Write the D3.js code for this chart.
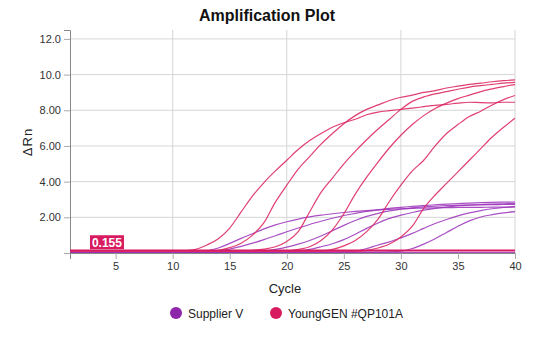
<!DOCTYPE html>
<html><head><meta charset="utf-8">
<script src="https://cdn.jsdelivr.net/npm/d3@7"></script>
<style>body{margin:0;background:#fff;font-family:"Liberation Sans",Arial,sans-serif}</style>
</head><body><svg id="c" width="534" height="342"></svg>
<script>
const cycles = d3.range(1, 41);
const seriesNames = ["Supplier V", "YoungGEN #QP101A"];
const seriesColors = ["#8e24aa", "#d81b60"];
const threshold = 0.155;
const xTicks = [5, 10, 15, 20, 25, 30, 35, 40];
const xGrid = [10, 20, 30, 40];
const yTicks = [0, 2, 4, 6, 8, 10, 12];
const yTickLabels = ["", "2.00", "4.00", "6.00", "8.00", "10.0", "12.0"];

// Supplier V curves (values for cycles 1..40)
const supplierV = [
  [0.05,0.05,0.05,0.05,0.05,0.05,0.05,0.05,0.05,0.05,0.05,0.05,0.12,0.28,0.54,0.82,1.08,1.35,1.58,1.75,1.9,2.02,2.12,2.2,2.27,2.33,2.38,2.42,2.45,2.48,2.5,2.52,2.53,2.54,2.55,2.56,2.56,2.57,2.57,2.58],
  [0.05,0.05,0.05,0.05,0.05,0.05,0.05,0.05,0.05,0.05,0.05,0.05,0.05,0.12,0.22,0.37,0.55,0.75,0.97,1.19,1.4,1.6,1.78,1.95,2.1,2.22,2.33,2.42,2.5,2.56,2.61,2.66,2.7,2.74,2.77,2.8,2.82,2.84,2.85,2.86],
  [0.05,0.05,0.05,0.05,0.05,0.05,0.05,0.05,0.05,0.05,0.05,0.05,0.05,0.05,0.05,0.05,0.05,0.1,0.2,0.33,0.5,0.7,0.95,1.25,1.55,1.82,2.05,2.22,2.36,2.46,2.53,2.58,2.62,2.65,2.67,2.69,2.7,2.71,2.72,2.73],
  [0.05,0.05,0.05,0.05,0.05,0.05,0.05,0.05,0.05,0.05,0.05,0.05,0.05,0.05,0.05,0.05,0.05,0.05,0.05,0.06,0.1,0.2,0.35,0.52,0.75,1.05,1.38,1.68,1.94,2.12,2.27,2.4,2.5,2.58,2.64,2.68,2.72,2.74,2.76,2.78],
  [0.05,0.05,0.05,0.05,0.05,0.05,0.05,0.05,0.05,0.05,0.05,0.05,0.05,0.05,0.05,0.05,0.05,0.05,0.05,0.05,0.05,0.05,0.05,0.05,0.06,0.1,0.25,0.45,0.62,0.85,1.1,1.38,1.65,1.88,2.08,2.25,2.38,2.48,2.55,2.6],
  [0.05,0.05,0.05,0.05,0.05,0.05,0.05,0.05,0.05,0.05,0.05,0.05,0.05,0.05,0.05,0.05,0.05,0.05,0.05,0.05,0.05,0.05,0.05,0.05,0.05,0.05,0.05,0.05,0.06,0.1,0.25,0.5,0.8,1.15,1.5,1.8,2.02,2.15,2.25,2.32],
  [0.04,0.04,0.04,0.04,0.04,0.04,0.04,0.04,0.04,0.04,0.04,0.04,0.04,0.04,0.04,0.04,0.04,0.04,0.04,0.04,0.04,0.04,0.04,0.04,0.04,0.04,0.04,0.04,0.04,0.04,0.04,0.04,0.04,0.04,0.04,0.04,0.04,0.04,0.04,0.04]
];

// YoungGEN #QP101A curves (values for cycles 1..40)
const youngGen = [
  [0.1,0.1,0.1,0.1,0.1,0.1,0.1,0.1,0.1,0.1,0.12,0.2,0.45,0.8,1.4,2.3,3.2,3.95,4.6,5.2,5.8,6.3,6.7,7.05,7.3,7.5,7.75,7.9,7.98,8.05,8.12,8.2,8.28,8.33,8.4,8.45,8.43,8.42,8.45,8.45],
  [0.1,0.1,0.1,0.1,0.1,0.1,0.1,0.1,0.1,0.1,0.1,0.1,0.1,0.15,0.3,0.55,1.0,1.7,2.85,3.8,4.7,5.4,6.1,6.7,7.25,7.7,8.05,8.3,8.55,8.73,8.85,9.0,9.1,9.25,9.35,9.45,9.52,9.6,9.66,9.7],
  [0.1,0.1,0.1,0.1,0.1,0.1,0.1,0.1,0.1,0.1,0.1,0.1,0.1,0.1,0.1,0.1,0.15,0.22,0.35,0.65,1.2,2.3,3.4,4.2,5.0,5.7,6.35,6.95,7.5,8.05,8.5,8.75,8.92,9.05,9.18,9.3,9.38,9.45,9.52,9.57],
  [0.1,0.1,0.1,0.1,0.1,0.1,0.1,0.1,0.1,0.1,0.1,0.1,0.1,0.1,0.1,0.1,0.1,0.1,0.1,0.12,0.2,0.35,0.7,1.3,2.2,3.3,4.25,5.1,5.9,6.6,7.2,7.7,8.1,8.4,8.65,8.85,9.05,9.2,9.33,9.44],
  [0.1,0.1,0.1,0.1,0.1,0.1,0.1,0.1,0.1,0.1,0.1,0.1,0.1,0.1,0.1,0.1,0.1,0.1,0.1,0.1,0.1,0.1,0.1,0.2,0.4,0.7,1.2,1.9,2.9,3.8,4.6,5.2,6.0,6.7,7.2,7.65,7.95,8.3,8.6,8.83],
  [0.1,0.1,0.1,0.1,0.1,0.1,0.1,0.1,0.1,0.1,0.1,0.1,0.1,0.1,0.1,0.1,0.1,0.1,0.1,0.1,0.1,0.1,0.1,0.1,0.1,0.1,0.15,0.28,0.5,0.9,1.5,2.5,3.25,3.9,4.55,5.2,5.85,6.5,7.05,7.55],
  [0.12,0.12,0.12,0.12,0.12,0.12,0.12,0.12,0.12,0.12,0.12,0.12,0.12,0.12,0.12,0.12,0.12,0.12,0.12,0.12,0.12,0.12,0.12,0.12,0.12,0.12,0.12,0.12,0.12,0.12,0.12,0.12,0.12,0.12,0.12,0.12,0.12,0.12,0.12,0.12]
];

const svg = d3.select("#c");
const x = d3.scaleLinear().domain([1, 40]).range([70, 515]);
const y = d3.scaleLinear().domain([0, 12.5]).range([253, 30]);

// title
svg.append("text").attr("x", 267).attr("y", 21).attr("text-anchor", "middle")
  .attr("font-size", 16).attr("font-weight", "bold").attr("fill", "#111").text("Amplification Plot");

// grid
svg.append("g").selectAll("line").data(yTicks.filter(d => d > 0)).join("line")
  .attr("x1", x(1)).attr("x2", x(40)).attr("y1", d => y(d)).attr("y2", d => y(d))
  .attr("stroke", "#d6d6d6").attr("stroke-width", 1);
svg.append("g").selectAll("line").data(xGrid).join("line")
  .attr("x1", d => x(d)).attr("x2", d => x(d)).attr("y1", y(0)).attr("y2", y(12.5))
  .attr("stroke", "#d6d6d6").attr("stroke-width", 1);

// axes
const yAxis = d3.axisLeft(y).tickValues(yTicks).tickFormat((d, i) => yTickLabels[i]).tickSize(6);
const gy = svg.append("g").attr("transform", `translate(${x(1)},0)`).call(yAxis);
const xAxis = d3.axisBottom(x).tickValues(xTicks).tickSize(6);
const gx = svg.append("g").attr("transform", `translate(0,${y(0)})`).call(xAxis);
[gx, gy].forEach(g => {
  g.selectAll("path.domain").attr("stroke", "#888");
  g.selectAll(".tick line").attr("stroke", "#aaa");
  g.selectAll("text").attr("fill", "#333").attr("font-size", 11).attr("font-family", "Liberation Sans, Arial, sans-serif");
});

// lines
const line = d3.line().x((d, i) => x(cycles[i])).y(d => y(d)).curve(d3.curveMonotoneX);
const plot = svg.append("g");
plot.selectAll("path.sv").data(supplierV).join("path").attr("class", "sv")
  .attr("d", line).attr("fill", "none").attr("stroke", "#9a30b8").attr("stroke-opacity", 0.85).attr("stroke-width", 1.2);
plot.selectAll("path.yg").data(youngGen).join("path").attr("class", "yg")
  .attr("d", line).attr("fill", "none").attr("stroke", "#dd2a63").attr("stroke-opacity", 0.9).attr("stroke-width", 1.2);

// threshold
svg.append("line").attr("x1", x(1)).attr("x2", x(40)).attr("y1", y(threshold)).attr("y2", y(threshold))
  .attr("stroke", "#d81b60").attr("stroke-width", 1.5);
const lbl = svg.append("g");
lbl.append("rect").attr("x", x(2.75)).attr("y", y(threshold) - 15).attr("width", 34).attr("height", 14).attr("fill", "#d81b60");
lbl.append("text").attr("x", x(2.75) + 17).attr("y", y(threshold) - 3.5).attr("text-anchor", "middle")
  .attr("fill", "#fff").attr("font-weight", "bold").attr("font-size", 12).text(threshold.toFixed(3));

// axis labels
svg.append("text").attr("transform", "translate(32,142) rotate(-90)").attr("text-anchor", "middle")
  .attr("font-size", 13).attr("fill", "#222").attr("letter-spacing", 1).text("ΔRn");
svg.append("text").attr("x", 285).attr("y", 293).attr("text-anchor", "middle")
  .attr("font-size", 13).attr("fill", "#222").text("Cycle");

// legend
const leg = svg.append("g");
const legX = [176, 276];
seriesNames.forEach((n, i) => {
  leg.append("circle").attr("cx", legX[i]).attr("cy", 313).attr("r", 6).attr("fill", seriesColors[i]);
  leg.append("text").attr("x", legX[i] + 12).attr("y", 317.5).attr("font-size", 12).attr("fill", "#222").text(n);
});
</script></body></html>
